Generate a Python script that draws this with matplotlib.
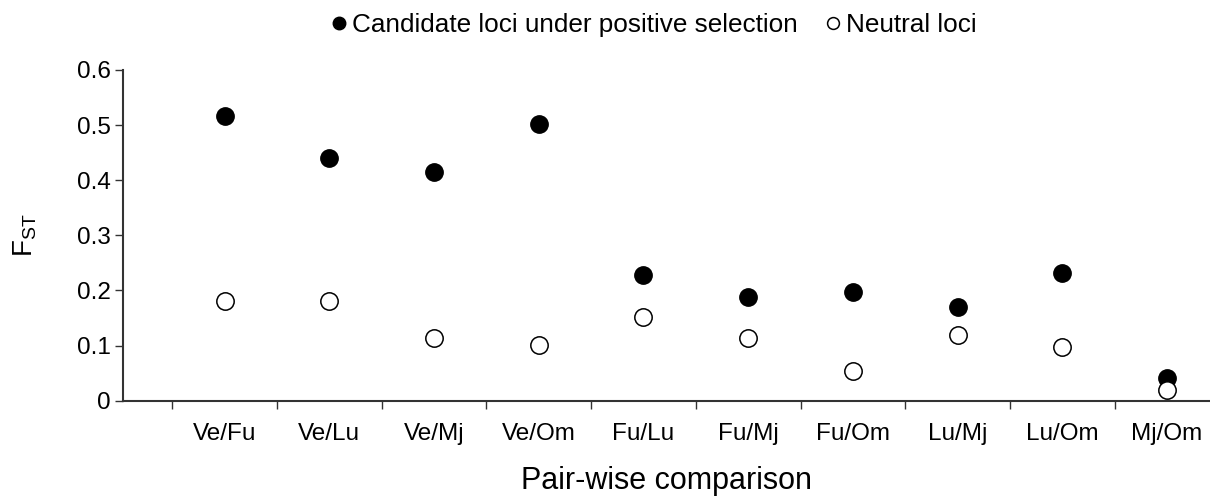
import numpy as np
import matplotlib
matplotlib.use("Agg")
import matplotlib.pyplot as plt
from matplotlib.lines import Line2D

plt.rcParams['font.family'] = ['Liberation Sans', 'DejaVu Sans']
plt.rcParams['mathtext.fontset'] = 'custom'
plt.rcParams['mathtext.rm'] = 'Liberation Sans'
plt.rcParams['mathtext.it'] = 'Liberation Sans'

# pair-wise comparisons and their FST values
pairs = ['Ve/Fu', 'Ve/Lu', 'Ve/Mj', 'Ve/Om', 'Fu/Lu',
         'Fu/Mj', 'Fu/Om', 'Lu/Mj', 'Lu/Om', 'Mj/Om']
fst_candidate = [0.517, 0.440, 0.414, 0.502, 0.228,
                 0.188, 0.198, 0.170, 0.232, 0.041]
fst_neutral = [0.181, 0.181, 0.113, 0.101, 0.151,
               0.113, 0.054, 0.119, 0.098, 0.019]
y_ticks = [0, 0.1, 0.2, 0.3, 0.4, 0.5, 0.6]
y_tick_labels = ['0', '0.1', '0.2', '0.3', '0.4', '0.5', '0.6']

edge = '#333333'

fig = plt.figure(figsize=(12.1, 4.97), dpi=100)
ax = fig.add_axes([0.1017, 0.1938, 0.8983, 0.6654])

x = np.arange(len(pairs))
ax.plot(x, fst_candidate, 'o', ms=12.5, mfc='black', mec='black', mew=1.0,
        ls='none', clip_on=False, zorder=3)
ax.plot(x, fst_neutral, 'o', ms=12.5, mfc='white', mec='black', mew=1.1,
        ls='none', clip_on=False, zorder=3)

ax.set_xlim(-0.97, 9.41)
ax.set_ylim(0, 0.6)

# boundary ticks between categories, labels at the centres
ax.set_xticks(np.arange(-0.5, len(pairs) - 1, 1.0))
ax.set_xticklabels([])
ax.set_xticks(x, minor=True)
ax.set_xticklabels(pairs, minor=True, fontsize=17.5)
ax.tick_params(axis='x', which='major', direction='out', length=6,
               width=1.0, color=edge)
ax.tick_params(axis='x', which='minor', length=0, pad=16)

ax.set_yticks(y_ticks)
ax.set_yticklabels(y_tick_labels, fontsize=17.5)
ax.tick_params(axis='y', direction='out', length=6, width=1.0,
               color=edge, pad=3)

for side in ['top', 'right']:
    ax.spines[side].set_visible(False)
for side in ['left', 'bottom']:
    ax.spines[side].set_color(edge)
    ax.spines[side].set_linewidth(1.5)

ax.set_xlabel('Pair-wise comparison', fontsize=22, labelpad=15)
ax.set_ylabel(r'F$_{\mathrm{ST}}$', fontsize=20, labelpad=27)

handles = [
    Line2D([], [], marker='o', ls='none', ms=9, mfc='black', mec='black'),
    Line2D([], [], marker='o', ls='none', ms=8.5, mfc='white', mec='black',
           mew=1.1),
]
fig.legend(handles, ['Candidate loci under positive selection', 'Neutral loci'],
           loc='center', bbox_to_anchor=(0.541, 0.950), ncol=2,
           frameon=False, fontsize=18.8, handlelength=0.5,
           handletextpad=0.25, columnspacing=1.1, borderaxespad=0)

fig.savefig('out.png', dpi=100)
